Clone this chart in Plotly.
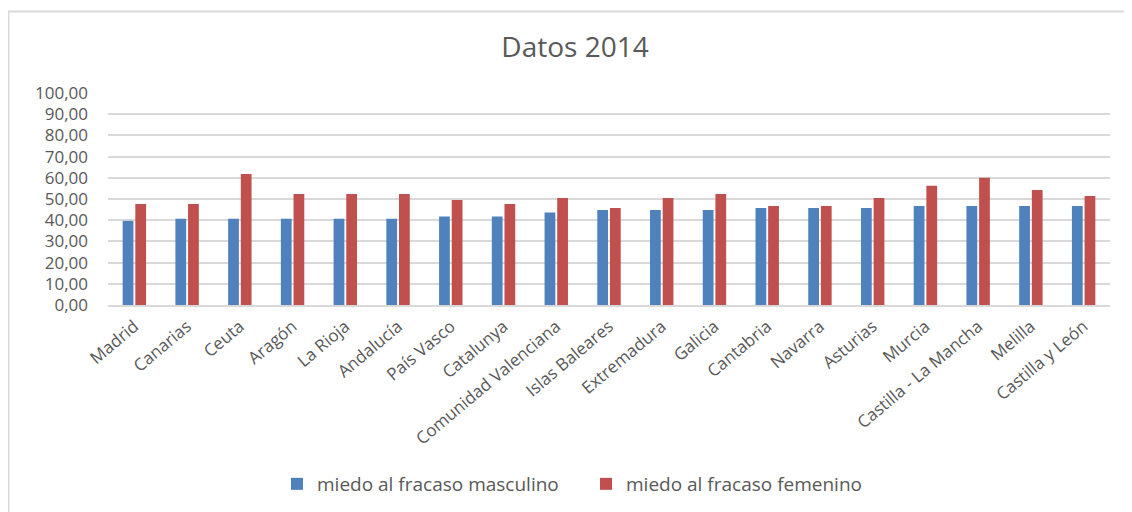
import plotly.graph_objects as go

categories = ["Madrid", "Canarias", "Ceuta", "Aragón", "La Rioja", "Andalucía", "País Vasco",
              "Catalunya", "Comunidad Valenciana", "Islas Baleares", "Extremadura", "Galicia",
              "Cantabria", "Navarra", "Asturias", "Murcia", "Castilla - La Mancha", "Melilla",
              "Castilla y León"]
masculino = [39.7, 40.7, 40.7, 40.7, 40.7, 40.7, 41.7, 41.7, 43.6, 44.8, 44.8, 44.8,
             45.8, 45.8, 45.8, 46.7, 46.7, 46.7, 46.7]
femenino = [47.6, 47.6, 61.8, 52.4, 52.4, 52.4, 49.5, 47.6, 50.5, 45.8, 50.5, 52.4,
            46.7, 46.7, 50.5, 56.2, 60.0, 54.3, 51.4]
y_ticks = [0, 10, 20, 30, 40, 50, 60, 70, 80, 90, 100]

FONT = "Open Sans"
GRAY = "#595959"

fig = go.Figure()
fig.add_trace(go.Bar(x=categories, y=masculino, name="miedo al fracaso masculino",
                     marker=dict(color="#4F81BD", line=dict(width=0))))
fig.add_trace(go.Bar(x=categories, y=femenino, name="miedo al fracaso femenino",
                     marker=dict(color="#C0504D", line=dict(width=0))))

# page body has an 8px margin, so the figure is placed 8px right/down
OFF = 8
W, H = 1132 - OFF, 512 - OFF
L, R, T, B = 108 - OFF, 22, 93 - OFF, H - (305 - OFF)
pw, ph = W - L - R, H - T - B

def px_x(p):
    return (p - OFF - L) / pw

def px_y(p):
    return (H - B - (p - OFF)) / ph

fig.update_layout(
    width=W, height=H,
    margin=dict(l=L, r=R, t=T, b=B, autoexpand=False),
    paper_bgcolor="white", plot_bgcolor="white",
    separators=",.",
    barmode="group", bargap=0.52, bargroupgap=0.15,
    title=dict(text="Datos 2014", x=px_x(575), xanchor="center", xref="paper",
               y=1 - (47 - OFF) / H, yanchor="middle",
               font=dict(family=FONT, size=28, color=GRAY)),
    font=dict(family=FONT, color=GRAY),
    legend=dict(orientation="h", x=px_x(586), xanchor="center", y=px_y(484), yanchor="middle",
                font=dict(family=FONT, size=19, color=GRAY), itemwidth=30,
                traceorder="normal", entrywidth=264),
    xaxis=dict(tickangle=-40, tickfont=dict(family=FONT, size=17, color=GRAY),
               showgrid=False, showline=True, linecolor="#D9D9D9", linewidth=2,
               ticks="", automargin=False, ticklabelstandoff=3),
    yaxis=dict(range=[0, 100], tickvals=y_ticks, tickformat=".2f",
               tickfont=dict(family=FONT, size=17, color=GRAY),
               showgrid=True, gridcolor="#D9D9D9", gridwidth=2,
               zeroline=False, showline=False, ticks="", automargin=False,
               ticklabelstandoff=19),
    shapes=[dict(type="rect", xref="paper", yref="paper",
                 x0=px_x(8.5), y0=px_y(600), x1=px_x(1200), y1=px_y(11.5),
                 line=dict(color="#D9D9D9", width=2), fillcolor="rgba(0,0,0,0)", layer="below")],
)

fig.write_html("out.html")
